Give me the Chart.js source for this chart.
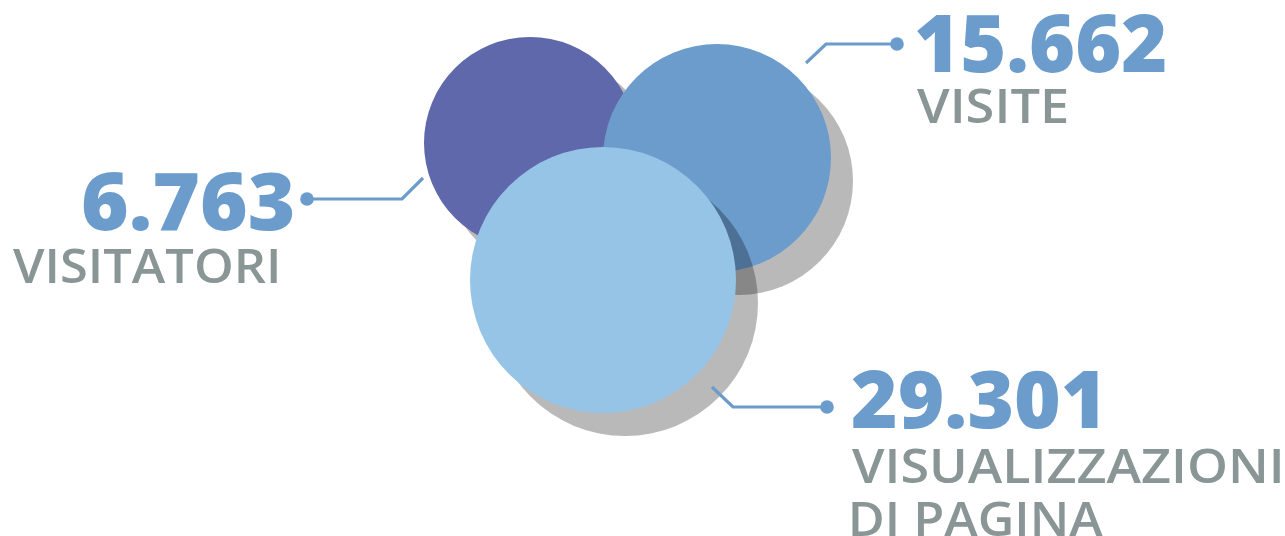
<!DOCTYPE html>
<html><head><meta charset="utf-8">
<script src="https://cdn.jsdelivr.net/npm/chart.js@4.4.1/dist/chart.umd.min.js"></script>
<style>html,body{margin:0;padding:0;background:#fff;overflow:hidden}#wrap{width:1285px;height:536px;position:relative}</style>
</head><body><div id="wrap"><canvas id="c" width="1285" height="536"></canvas></div>
<script>
// ---- data ----
const categories = ['VISITATORI', 'VISITE', 'VISUALIZZAZIONI DI PAGINA'];
const values = [6763, 15662, 29301];
const valueLabels = ['6.763', '15.662', '29.301'];
const nameLines = [['VISITATORI'], ['VISITE'], ['VISUALIZZAZIONI', 'DI PAGINA']];

// ---- layout (axis units, axes span the canvas) ----
const bubbleX = [530, 717, 603];
const bubbleY = [143, 158, 280];
const bubbleR = [106, 114, 133];
const bubbleColors = ['#5E68AB', '#6B9CCC', '#96C4E6'];
const leaderPts = [
  [[307, 199], [402, 199], [423, 178]],
  [[897, 44], [826, 44], [806, 63]],
  [[827, 407], [733, 407], [712, 387]]
];
const numPos = [[83, 230, 210], [917, 72, 248], [852, 428, 246]];      // left, baseline, width
const namePos = [
  [[13, 283, 264]],
  [[917, 123, 150]],
  [[852, 483, 428], [852, 536, 251]]
];
const BLUE = '#6B9CCC', GREY = '#8A9696';

function drawFitted(ctx, text, x, baseline, capH, width, weight, fam, color) {
  ctx.save();
  ctx.font = `${weight} 100px ${fam}`;
  const cap = ctx.measureText('H').actualBoundingBoxAscent || 72;
  const size = 100 * capH / cap;
  ctx.font = `${weight} ${size}px ${fam}`;
  ctx.textAlign = 'left';
  ctx.textBaseline = 'alphabetic';
  const tm = ctx.measureText(text);
  const natural = tm.actualBoundingBoxRight + tm.actualBoundingBoxLeft;
  const sx = width / natural;
  ctx.translate(x, baseline);
  ctx.scale(sx, 1);
  ctx.fillStyle = color;
  ctx.fillText(text, tm.actualBoundingBoxLeft, 0);
  ctx.restore();
}

const shadowPlugin = {
  id: 'shadow',
  beforeDatasetDraw(chart) {
    const ctx = chart.ctx, d = chart.currentDevicePixelRatio || 1;
    ctx.save();
    ctx.shadowColor = 'rgba(0,0,0,0.275)';
    ctx.shadowOffsetX = 22 * d;
    ctx.shadowOffsetY = 23 * d;
    ctx.shadowBlur = 0;
  },
  afterDatasetDraw(chart) { chart.ctx.restore(); }
};

const labelPlugin = {
  id: 'labels',
  afterDraw(chart) {
    const ctx = chart.ctx, xs = chart.scales.x, ys = chart.scales.y;
    const px = v => xs.getPixelForValue(v), py = v => ys.getPixelForValue(v);
    ctx.save();
    leaderPts.forEach(pts => {
      ctx.strokeStyle = BLUE; ctx.lineWidth = 3.2; ctx.lineJoin = 'miter'; ctx.lineCap = 'butt';
      ctx.beginPath();
      pts.forEach((p, i) => i ? ctx.lineTo(px(p[0]), py(p[1])) : ctx.moveTo(px(p[0]), py(p[1])));
      ctx.stroke();
      ctx.fillStyle = BLUE;
      ctx.beginPath(); ctx.arc(px(pts[0][0]), py(pts[0][1]), 6.8, 0, Math.PI * 2); ctx.fill();
    });
    const numFont = '"Open Sans", "DejaVu Sans", sans-serif';
    const nameFont = '"Open Sans", "Noto Sans", sans-serif';
    valueLabels.forEach((t, i) => {
      const [x, b, w] = numPos[i];
      drawFitted(ctx, t, px(x), py(b), 57, w, 800, numFont, BLUE);
      nameLines[i].forEach((ln, j) => {
        const [nx, nb, nw] = namePos[i][j];
        drawFitted(ctx, ln, px(nx), py(nb), 33.5, nw, 600, nameFont, GREY);
      });
    });
    ctx.restore();
  }
};

new Chart(document.getElementById('c'), {
  type: 'bubble',
  data: {
    labels: categories,
    datasets: [{
      label: 'Statistiche',
      data: values.map((v, i) => ({ x: bubbleX[i], y: bubbleY[i], r: bubbleR[i], v })),
      backgroundColor: bubbleColors,
      hoverBackgroundColor: bubbleColors,
      borderWidth: 0,
      hoverBorderWidth: 0,
      clip: false
    }]
  },
  options: {
    responsive: false,
    devicePixelRatio: 1,
    animation: false,
    events: [],
    layout: { padding: 0, autoPadding: false },
    plugins: { legend: { display: false }, tooltip: { enabled: false } },
    scales: {
      x: { type: 'linear', display: false, min: 0, max: 1285 },
      y: { type: 'linear', display: false, min: 0, max: 536, reverse: true }
    }
  },
  plugins: [shadowPlugin, labelPlugin]
});
</script>
</body></html>
